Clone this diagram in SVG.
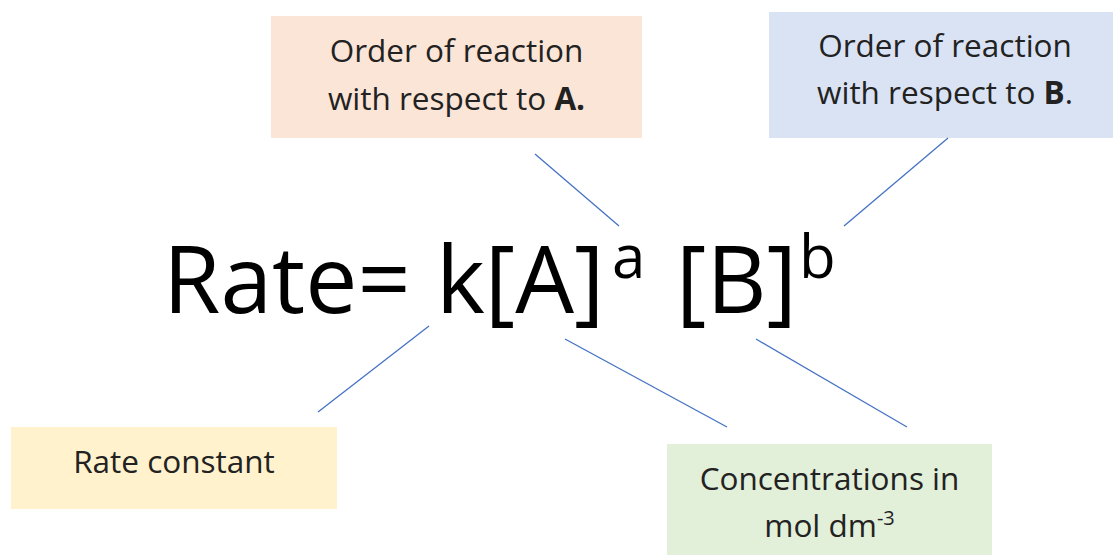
<svg xmlns="http://www.w3.org/2000/svg" width="1113" height="555" viewBox="0 0 1113 555">
  <style>
    .box-text { font-family: "Open Sans", "Noto Sans", sans-serif; font-size: 31.5px; fill: #222222; text-anchor: middle; }
    .formula { font-family: "Open Sans", "Noto Sans", sans-serif; fill: #000000; }
    .link { stroke: #4472c4; stroke-width: 1.3; fill: none; }
  </style>
  <rect width="1113" height="555" fill="#ffffff"/>

  <!-- rate equation -->
  <g id="equation">
    <text class="formula" font-size="93" x="163" y="313">Rate=</text>
    <text class="formula" font-size="93" x="436" y="313">k[A]</text>
    <text class="formula" font-size="60" x="612" y="278">a</text>
    <text class="formula" font-size="93" x="676" y="313">[B]</text>
    <text class="formula" font-size="60" x="799" y="278">b</text>
  </g>

  <g id="order-a">
    <rect x="271" y="16" width="371" height="122" fill="#fbe5d6"/>
    <text class="box-text" x="456.5" y="62">Order of reaction</text>
    <text class="box-text" x="456.5" y="110">with respect to <tspan font-weight="bold">A.</tspan></text>
  </g>

  <g id="order-b">
    <rect x="769" y="12" width="344" height="126" fill="#dae3f3"/>
    <text class="box-text" x="945" y="57">Order of reaction</text>
    <text class="box-text" x="945" y="104">with respect to <tspan font-weight="bold">B</tspan>.</text>
  </g>

  <g id="rate-constant">
    <rect x="11" y="427" width="326" height="82" fill="#fff2cc"/>
    <text class="box-text" x="174" y="473">Rate constant</text>
  </g>

  <g id="concentrations">
    <rect x="667" y="444" width="325" height="111" fill="#e2efd9"/>
    <text class="box-text" x="829.5" y="490">Concentrations in</text>
    <text class="box-text" x="829.5" y="537">mol dm<tspan font-size="20" dy="-12">-3</tspan></text>
  </g>

  <g id="connectors">
    <line class="link" x1="535" y1="154" x2="619" y2="226"/>
    <line class="link" x1="948" y1="138" x2="844" y2="226"/>
    <line class="link" x1="429" y1="326" x2="318" y2="412"/>
    <line class="link" x1="565" y1="339" x2="727" y2="427"/>
    <line class="link" x1="756" y1="339" x2="907" y2="427"/>
  </g>
</svg>
